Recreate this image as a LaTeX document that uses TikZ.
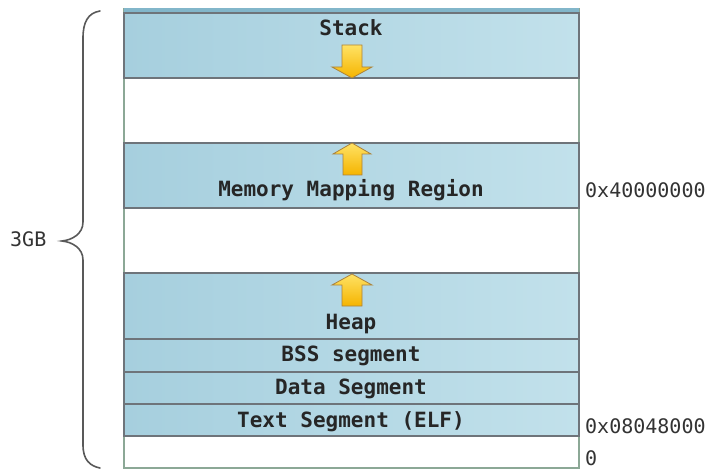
\documentclass[tikz,border=0pt]{standalone}
\usepackage{fontspec}
\newfontfamily\mono{DejaVu Sans Mono}
\begin{document}
\begin{tikzpicture}[x=1pt,y=-1pt,
  band/.style={left color=bandA, right color=bandB, draw=bandline, line width=1.8pt},
  lbl/.style={font=\mono\bfseries\fontsize{21}{24}\selectfont, text=black!85, inner sep=0pt, anchor=base},
  addr/.style={font=\mono\fontsize{20}{24}\selectfont, text=black!80, inner sep=0pt, anchor=base west},
  frame/.style={draw=framegreen, line width=1.5pt},
  yarrow/.style={top color=arrowA, bottom color=arrowB, draw=arrowline, line width=0.8pt, line join=miter},
  bracepath/.style={draw=gray!70!black, line width=1.6pt, line cap=round}
]
\definecolor{bandA}{RGB}{166,207,222}
\definecolor{bandB}{RGB}{194,225,235}
\definecolor{bandline}{RGB}{110,116,122}
\definecolor{framegreen}{RGB}{140,168,150}
\definecolor{arrowA}{RGB}{255,226,100}
\definecolor{arrowB}{RGB}{245,180,0}
\definecolor{arrowline}{RGB}{170,130,60}
\definecolor{topstrip}{RGB}{130,182,202}

\useasboundingbox (0,0) rectangle (709,470);

% outer frame
\draw[frame] (124,8) -- (124,468) -- (579,468) -- (579,8);

% top strip
\fill[topstrip] (124,8) rectangle (579,13);
% bands
\path[band] (124,13) rectangle (579,78);
\path[band] (124,143) rectangle (579,208);
\path[band] (124,273) rectangle (579,339);
\path[band] (124,339) rectangle (579,372);
\path[band] (124,372) rectangle (579,404);
\path[band] (124,404) rectangle (579,436);

% arrows
\path[yarrow] (342,45) -- (362,45) -- (362,67) -- (372,67) -- (352,78) -- (332,67) -- (342,67) -- cycle;
\path[yarrow] (343,175) -- (362,175) -- (362,154) -- (371,154) -- (352,143) -- (333,154) -- (343,154) -- cycle;
\path[yarrow] (342,306) -- (362,306) -- (362,285) -- (372,285) -- (352,274) -- (332,285) -- (342,285) -- cycle;

% labels
\node[lbl] (stack) at (351,36) {Stack};
\node[lbl] (mmr) at (351,197) {Memory Mapping Region};
\node[lbl] (heap) at (351,329) {Heap};
\node[lbl] (bss) at (351,361) {BSS segment};
\node[lbl] (data) at (351,394) {Data Segment};
\node[lbl] (text) at (351,427) {Text Segment (ELF)};

\node[addr] (a4) at (585,198) {0x40000000};
\node[addr] (a08) at (585,433) {0x08048000};
\node[addr] (a0) at (585,465) {0};

% brace
\path[bracepath] (100,11) .. controls (88,13) and (83,22) .. (83,38)
  -- (83,222) .. controls (83,234) and (72,240) .. (62,241)
  .. controls (72,242) and (83,248) .. (83,260)
  -- (83,445) .. controls (83,460) and (90,466) .. (100,468);
\node[addr] (gb) at (10,247) {3GB};
\end{tikzpicture}
\end{document}
